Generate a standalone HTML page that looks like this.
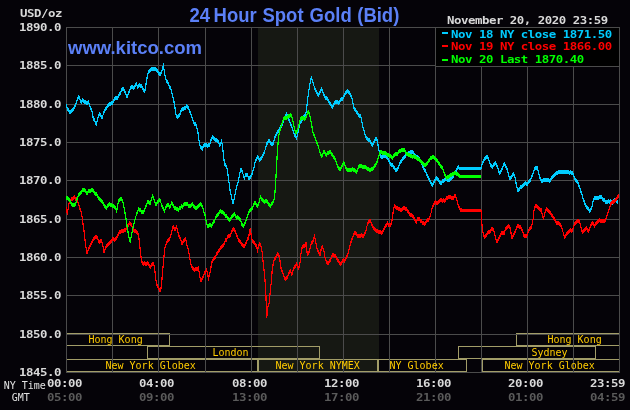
<!DOCTYPE html>
<html><head><meta charset="utf-8"><style>
html,body{margin:0;padding:0;background:#050308;}
body{width:630px;height:410px;overflow:hidden;}
svg{display:block;}
.b{font-family:"DejaVu Sans Mono","Liberation Mono",monospace;font-weight:bold;font-size:12.4px;letter-spacing:-0.466px;}
.r{font-family:"DejaVu Sans Mono","Liberation Mono",monospace;font-size:10px;}
.t{font-family:"Liberation Sans",Arial,sans-serif;font-weight:bold;font-size:18.5px;}
</style></head><body>
<svg width="630" height="410" viewBox="0 0 630 410">
<rect width="630" height="410" fill="#050308"/>
<g shape-rendering="crispEdges">
<rect x="258" y="28" width="121" height="344" fill="#161813"/>
<rect x="67" y="333" width="103" height="1" fill="#a29d68"/>
<rect x="67" y="345" width="103" height="1" fill="#a29d68"/>
<rect x="169" y="333" width="1" height="13" fill="#a29d68"/>
<rect x="516" y="333" width="103" height="1" fill="#a29d68"/>
<rect x="516" y="345" width="103" height="1" fill="#a29d68"/>
<rect x="516" y="333" width="1" height="13" fill="#a29d68"/>
<rect x="147" y="346" width="173" height="1" fill="#a29d68"/>
<rect x="147" y="358" width="173" height="1" fill="#a29d68"/>
<rect x="147" y="346" width="1" height="13" fill="#a29d68"/>
<rect x="319" y="346" width="1" height="13" fill="#a29d68"/>
<rect x="458" y="346" width="138" height="1" fill="#a29d68"/>
<rect x="458" y="358" width="138" height="1" fill="#a29d68"/>
<rect x="458" y="346" width="1" height="13" fill="#a29d68"/>
<rect x="595" y="346" width="1" height="13" fill="#a29d68"/>
<rect x="67" y="359" width="191" height="1" fill="#a29d68"/>
<rect x="67" y="371" width="191" height="1" fill="#a29d68"/>
<rect x="257" y="359" width="1" height="13" fill="#a29d68"/>
<rect x="258" y="359" width="120" height="1" fill="#a29d68"/>
<rect x="258" y="371" width="120" height="1" fill="#a29d68"/>
<rect x="258" y="359" width="1" height="13" fill="#a29d68"/>
<rect x="377" y="359" width="1" height="13" fill="#a29d68"/>
<rect x="378" y="359" width="89" height="1" fill="#a29d68"/>
<rect x="378" y="371" width="89" height="1" fill="#a29d68"/>
<rect x="378" y="359" width="1" height="13" fill="#a29d68"/>
<rect x="466" y="359" width="1" height="13" fill="#a29d68"/>
<rect x="482" y="359" width="137" height="1" fill="#a29d68"/>
<rect x="482" y="371" width="137" height="1" fill="#a29d68"/>
<rect x="482" y="359" width="1" height="13" fill="#a29d68"/>
<rect x="66" y="27" width="554" height="1" fill="#4b4b4b"/>
<rect x="66" y="65" width="554" height="1" fill="#4b4b4b"/>
<rect x="66" y="104" width="554" height="1" fill="#4b4b4b"/>
<rect x="66" y="142" width="554" height="1" fill="#4b4b4b"/>
<rect x="66" y="180" width="554" height="1" fill="#4b4b4b"/>
<rect x="66" y="219" width="554" height="1" fill="#4b4b4b"/>
<rect x="66" y="257" width="554" height="1" fill="#4b4b4b"/>
<rect x="66" y="295" width="554" height="1" fill="#4b4b4b"/>
<rect x="66" y="334" width="554" height="1" fill="#4b4b4b"/>
<rect x="66" y="372" width="554" height="1" fill="#4b4b4b"/>
<rect x="66" y="27" width="1" height="346" fill="#4b4b4b"/>
<rect x="112" y="27" width="1" height="346" fill="#4b4b4b"/>
<rect x="158" y="27" width="1" height="346" fill="#4b4b4b"/>
<rect x="205" y="27" width="1" height="346" fill="#4b4b4b"/>
<rect x="251" y="27" width="1" height="346" fill="#4b4b4b"/>
<rect x="297" y="27" width="1" height="346" fill="#4b4b4b"/>
<rect x="343" y="27" width="1" height="346" fill="#4b4b4b"/>
<rect x="389" y="27" width="1" height="346" fill="#4b4b4b"/>
<rect x="435" y="27" width="1" height="346" fill="#4b4b4b"/>
<rect x="481" y="27" width="1" height="346" fill="#4b4b4b"/>
<rect x="527" y="27" width="1" height="346" fill="#4b4b4b"/>
<rect x="573" y="27" width="1" height="346" fill="#4b4b4b"/>
<rect x="619" y="27" width="1" height="346" fill="#4b4b4b"/>
</g>
<rect x="436" y="28" width="183" height="38" fill="#000" shape-rendering="crispEdges"/>
<rect x="435" y="66" width="185" height="1" fill="#4b4b4b" shape-rendering="crispEdges"/>
<g shape-rendering="crispEdges">
<polygon points="66.7,102.4 67.0,106.0 68.3,107.9 69.1,108.6 69.9,110.7 71.3,109.5 72.2,109.1 73.1,107.3 74.0,106.3 75.0,104.2 76.2,100.6 77.0,98.0 77.7,96.3 78.6,94.8 79.9,96.9 81.0,100.6 82.0,99.0 82.9,97.5 84.1,100.0 85.3,100.2 86.6,100.6 87.5,100.6 88.4,100.0 89.6,103.6 90.5,106.0 91.4,107.3 92.7,112.1 93.3,117.0 94.2,117.4 95.1,119.5 96.3,122.5 97.5,117.0 98.5,113.6 99.4,112.1 100.6,113.4 101.5,115.0 102.4,115.2 103.6,110.9 104.5,109.0 105.5,107.3 106.7,106.0 107.9,103.6 109.1,101.7 110.3,101.8 111.2,101.4 112.2,101.3 113.3,99.5 114.4,96.9 115.5,96.0 116.6,96.2 117.3,96.3 118.1,94.7 119.5,91.8 120.6,90.6 121.7,87.8 122.6,86.7 123.5,87.4 124.6,89.6 125.3,90.5 126.1,93.3 127.3,94.7 128.3,91.8 129.4,89.0 130.5,86.0 131.2,86.1 132.0,84.5 133.4,86.7 134.2,85.4 134.9,84.5 135.7,82.4 136.4,81.5 137.5,85.2 138.4,83.9 139.3,83.0 140.7,83.7 141.4,83.9 142.2,86.0 143.1,87.2 144.0,89.6 145.1,88.1 146.3,80.1 147.3,74.2 148.4,70.6 149.4,69.0 150.3,67.6 151.4,67.4 152.5,67.3 153.6,66.6 154.7,66.9 155.6,66.7 156.6,67.6 157.4,68.5 158.3,70.6 159.1,71.4 159.8,72.3 161.2,71.3 162.4,67.6 163.4,62.5 164.2,69.1 165.3,75.0 166.4,79.4 167.8,80.8 168.6,82.5 169.3,85.0 170.6,86.6 171.8,90.1 172.7,94.2 173.5,96.9 174.9,105.4 176.1,113.1 176.9,114.1 177.8,114.8 178.9,113.8 180.0,112.3 181.2,108.0 182.1,106.9 182.9,107.1 183.8,107.2 184.6,105.4 185.5,105.9 186.3,104.1 187.2,104.6 188.1,105.5 188.9,107.1 189.8,109.7 190.6,111.4 191.4,114.0 192.3,115.7 193.2,119.6 194.0,121.7 195.1,121.9 196.1,122.5 197.4,127.6 198.3,132.8 199.4,141.5 200.3,144.3 201.2,145.8 202.2,147.8 203.3,143.7 204.4,143.5 205.4,142.7 206.4,142.8 207.4,143.7 208.4,143.4 209.5,142.7 210.3,140.9 211.1,137.5 211.8,136.6 212.6,134.4 213.6,136.0 214.7,137.5 215.7,138.2 216.7,138.5 217.8,138.6 218.8,140.6 219.8,144.7 220.7,141.1 221.5,138.5 222.3,143.7 223.4,152.0 224.4,162.3 225.2,163.4 226.1,163.4 227.1,166.5 228.5,176.8 229.3,182.9 230.2,189.3 231.1,192.7 231.9,197.5 232.9,201.7 234.3,196.5 235.4,190.9 236.4,185.1 237.4,182.4 238.5,178.9 239.5,172.7 240.2,169.9 241.0,166.5 241.8,168.3 242.6,170.6 243.4,173.4 244.2,176.5 244.9,174.6 245.7,172.7 246.4,172.8 247.2,171.7 248.0,174.3 248.8,176.8 249.7,175.6 250.5,174.8 251.9,172.7 252.9,169.0 254.0,165.4 255.1,160.4 256.1,157.2 257.5,155.1 258.6,155.9 259.6,158.5 260.8,157.1 262.0,154.9 263.1,153.6 264.3,150.3 265.5,146.4 266.6,142.1 267.8,140.2 268.9,138.7 270.0,139.7 271.2,142.1 272.4,141.6 273.5,141.0 274.7,135.2 275.9,133.9 277.0,130.6 278.1,129.4 279.3,127.1 280.5,125.4 281.6,123.6 282.8,121.4 284.0,117.8 285.1,114.4 286.3,112.0 287.1,113.2 287.9,114.3 288.9,118.1 289.8,120.1 291.0,123.2 292.1,125.9 293.2,129.3 294.4,132.9 295.5,134.1 296.7,136.3 297.9,130.6 299.0,125.4 300.2,120.1 301.4,119.3 302.5,116.7 303.6,114.5 304.8,114.3 305.6,112.0 306.4,108.5 307.8,95.8 308.6,90.6 309.4,84.2 310.4,80.4 311.3,75.0 312.1,77.8 312.9,79.6 313.9,83.7 314.8,86.5 316.0,88.9 317.1,91.2 317.9,92.5 318.7,93.5 319.6,91.1 320.6,88.9 321.4,87.3 322.2,87.5 323.3,91.6 324.4,94.3 325.5,95.5 326.6,96.5 327.7,97.5 328.8,99.8 329.9,101.5 331.0,103.1 331.9,104.2 332.7,105.3 333.5,102.8 334.3,100.9 335.4,100.0 336.5,99.8 337.6,100.4 338.7,100.9 339.8,99.5 340.9,97.6 341.9,97.3 343.0,96.5 343.8,94.8 344.6,93.2 345.5,90.6 346.3,89.9 347.4,89.4 348.5,89.9 349.6,90.9 350.7,93.2 351.6,95.6 352.5,97.6 353.4,104.2 354.2,106.6 355.1,107.5 356.2,109.7 357.3,110.8 358.2,112.5 359.1,113.0 359.9,114.2 360.6,114.1 361.4,116.9 362.1,120.7 363.0,125.2 363.9,128.4 365.0,132.5 366.1,136.0 367.2,136.3 368.3,138.2 369.1,137.8 370.0,139.3 371.1,140.5 372.2,143.7 373.0,142.6 373.8,140.4 374.9,137.7 376.0,136.0 376.8,136.9 377.5,139.3 378.7,147.6 380.1,153.5 381.2,154.5 382.3,155.0 383.4,154.3 384.5,154.2 385.6,153.7 386.7,155.0 387.8,156.1 388.9,158.6 390.0,160.9 391.1,163.0 392.2,163.1 393.3,164.5 394.3,165.5 395.2,167.9 396.2,168.9 397.3,167.0 398.4,165.2 399.5,162.3 400.6,160.1 401.7,158.2 402.8,156.4 403.9,155.1 405.0,155.7 405.8,153.6 406.5,152.0 407.6,151.5 408.7,151.3 409.8,150.3 410.9,150.6 411.9,149.4 412.8,149.8 413.8,152.0 414.9,153.9 416.0,154.2 417.1,155.0 418.2,155.7 419.3,156.6 420.4,158.6 421.5,161.4 422.6,163.7 423.7,166.5 424.8,168.1 425.9,169.7 427.0,173.3 428.1,174.5 429.2,177.7 430.3,179.1 431.4,182.0 432.8,182.8 433.9,180.7 435.0,177.7 435.9,176.3 436.8,176.2 437.8,177.7 438.7,178.4 439.8,180.2 440.9,181.3 442.2,179.7 443.3,178.8 444.4,177.8 445.5,176.7 446.6,176.7 447.7,178.4 448.8,178.2 449.9,178.0 451.0,176.7 452.1,175.6 453.2,174.5 454.3,171.8 455.4,170.2 456.4,168.3 457.3,165.8 458.3,165.0 459.7,167.0 460.7,167.0 461.7,167.0 462.7,167.0 463.8,167.0 464.8,167.0 465.8,167.0 466.8,167.0 467.8,167.0 468.8,167.0 469.8,167.0 470.9,167.0 471.9,167.0 472.9,167.0 473.9,167.0 474.9,167.0 475.9,167.0 476.9,167.0 478.0,167.0 479.0,167.0 480.0,167.0 481.0,167.0 482.4,161.4 483.5,159.0 484.6,157.0 485.7,155.7 486.8,154.1 487.9,155.9 489.0,158.5 490.1,161.7 491.2,164.3 492.6,165.0 493.4,162.7 494.1,162.1 495.0,161.0 495.8,160.7 496.8,164.2 497.7,165.8 498.8,169.5 499.9,171.6 500.6,169.8 501.4,168.7 502.3,166.9 503.2,163.6 504.3,162.1 505.1,162.8 505.8,164.3 506.6,166.6 507.3,167.2 508.7,173.1 509.4,175.4 510.2,176.7 511.0,175.4 511.9,174.5 512.6,173.0 513.4,172.4 514.1,172.9 514.9,175.3 516.3,182.5 517.5,188.0 518.4,188.4 519.2,187.2 520.5,185.0 521.7,184.7 523.0,184.1 524.2,182.2 525.0,182.3 525.8,180.5 527.0,183.8 528.3,179.7 529.5,178.6 530.8,177.2 531.6,174.4 532.5,173.0 533.4,170.8 534.2,167.2 535.0,166.9 535.8,164.7 536.6,165.9 537.5,166.3 538.7,171.3 540.0,176.3 540.9,177.8 541.7,179.3 543.0,178.4 544.2,178.0 545.5,177.5 546.7,177.7 548.0,177.9 549.2,179.3 550.0,179.0 550.8,178.0 551.7,175.5 552.7,174.5 553.7,173.8 554.8,172.4 555.8,172.2 557.0,170.6 558.3,170.5 559.5,170.4 560.8,169.7 562.0,169.4 563.3,170.0 564.5,170.2 565.8,170.5 567.0,169.8 568.3,169.7 569.5,170.6 570.8,170.0 571.6,171.4 572.5,171.3 573.4,172.4 574.2,175.5 575.0,176.6 575.8,178.8 576.9,179.3 578.0,180.5 578.9,184.0 579.7,185.5 580.5,188.6 581.3,190.5 582.1,193.1 583.0,196.3 583.9,198.5 584.8,201.8 585.8,203.8 586.8,205.1 587.8,206.8 588.8,207.2 589.6,208.7 590.4,208.5 591.5,206.5 592.8,200.4 594.2,196.4 595.2,195.8 596.2,195.8 597.2,196.6 598.2,195.8 599.2,195.5 600.2,194.4 601.0,194.7 601.9,195.1 602.8,197.4 603.6,197.8 604.6,198.3 605.6,199.8 606.6,200.5 607.6,200.2 608.6,199.2 609.6,199.8 610.6,199.4 611.6,200.4 612.6,200.6 613.6,199.1 614.6,198.2 615.6,198.4 617.0,199.1 618.3,200.4 618.3,204.4 617.0,203.1 615.6,202.4 614.6,202.2 613.6,203.1 612.6,204.6 611.6,204.4 610.6,203.4 609.6,203.8 608.6,203.2 607.6,204.2 606.6,204.5 605.6,203.8 604.6,202.3 603.6,201.8 602.8,201.4 601.9,199.1 601.0,198.7 600.2,198.4 599.2,199.5 598.2,199.8 597.2,200.6 596.2,199.8 595.2,199.8 594.2,200.4 592.8,204.4 591.5,210.5 590.4,212.5 589.6,212.7 588.8,211.2 587.8,210.8 586.8,209.1 585.8,207.8 584.8,205.8 583.9,202.5 583.0,200.3 582.1,197.1 581.3,194.5 580.5,192.6 579.7,189.5 578.9,188.0 578.0,184.5 576.9,183.3 575.8,182.8 575.0,180.6 574.2,179.5 573.4,176.4 572.5,175.3 571.6,175.4 570.8,174.0 569.5,174.6 568.3,173.7 567.0,173.8 565.8,174.5 564.5,174.2 563.3,174.0 562.0,173.4 560.8,173.7 559.5,174.4 558.3,174.5 557.0,174.6 555.8,176.2 554.8,176.4 553.7,177.8 552.7,178.5 551.7,179.5 550.8,182.0 550.0,183.0 549.2,183.3 548.0,181.9 546.7,181.7 545.5,181.5 544.2,182.0 543.0,182.4 541.7,183.3 540.9,181.8 540.0,180.3 538.7,175.3 537.5,170.3 536.6,169.9 535.8,168.7 535.0,170.9 534.2,171.2 533.4,174.8 532.5,177.0 531.6,178.4 530.8,181.2 529.5,182.6 528.3,183.7 527.0,187.8 525.8,184.5 525.0,186.3 524.2,186.2 523.0,188.1 521.7,188.7 520.5,189.0 519.2,191.2 518.4,192.4 517.5,192.0 516.3,186.5 514.9,179.3 514.1,176.9 513.4,176.4 512.6,177.0 511.9,178.5 511.0,179.4 510.2,180.7 509.4,179.4 508.7,177.1 507.3,171.2 506.6,170.6 505.8,168.3 505.1,166.8 504.3,166.1 503.2,167.6 502.3,170.9 501.4,172.7 500.6,173.8 499.9,175.6 498.8,173.5 497.7,169.8 496.8,168.2 495.8,164.7 495.0,165.0 494.1,166.1 493.4,166.7 492.6,169.0 491.2,168.3 490.1,165.7 489.0,162.5 487.9,159.9 486.8,158.1 485.7,159.7 484.6,161.0 483.5,163.0 482.4,165.4 481.0,170.0 480.0,170.0 479.0,170.0 478.0,170.0 476.9,170.0 475.9,170.0 474.9,170.0 473.9,170.0 472.9,170.0 471.9,170.0 470.9,170.0 469.8,170.0 468.8,170.0 467.8,170.0 466.8,170.0 465.8,170.0 464.8,170.0 463.8,170.0 462.7,170.0 461.7,170.0 460.7,170.0 459.7,170.0 458.3,169.0 457.3,169.8 456.4,172.3 455.4,174.2 454.3,175.8 453.2,178.5 452.1,179.6 451.0,180.7 449.9,182.0 448.8,182.2 447.7,182.4 446.6,180.7 445.5,180.7 444.4,181.8 443.3,182.8 442.2,183.7 440.9,185.3 439.8,184.2 438.7,182.4 437.8,181.7 436.8,180.2 435.9,180.3 435.0,181.7 433.9,184.7 432.8,186.8 431.4,186.0 430.3,183.1 429.2,181.7 428.1,178.5 427.0,177.3 425.9,173.7 424.8,172.1 423.7,170.5 422.6,167.7 421.5,165.4 420.4,162.6 419.3,160.6 418.2,159.7 417.1,159.0 416.0,158.2 414.9,157.9 413.8,156.0 412.8,153.8 411.9,153.4 410.9,154.6 409.8,154.3 408.7,155.3 407.6,155.5 406.5,156.0 405.8,157.6 405.0,159.7 403.9,159.1 402.8,160.4 401.7,162.2 400.6,164.1 399.5,166.3 398.4,169.2 397.3,171.0 396.2,172.9 395.2,171.9 394.3,169.5 393.3,168.5 392.2,167.1 391.1,167.0 390.0,164.9 388.9,162.6 387.8,160.1 386.7,159.0 385.6,157.7 384.5,158.2 383.4,158.3 382.3,159.0 381.2,158.5 380.1,157.5 378.7,151.6 377.5,143.3 376.8,140.9 376.0,140.0 374.9,141.7 373.8,144.4 373.0,146.6 372.2,147.7 371.1,144.5 370.0,143.3 369.1,141.8 368.3,142.2 367.2,140.3 366.1,140.0 365.0,136.5 363.9,132.4 363.0,129.2 362.1,124.7 361.4,120.9 360.6,118.1 359.9,118.2 359.1,117.0 358.2,116.5 357.3,114.8 356.2,113.7 355.1,111.5 354.2,110.6 353.4,108.2 352.5,101.6 351.6,99.6 350.7,97.2 349.6,94.9 348.5,93.9 347.4,93.4 346.3,93.9 345.5,94.6 344.6,97.2 343.8,98.8 343.0,100.5 341.9,101.3 340.9,101.6 339.8,103.5 338.7,104.9 337.6,104.4 336.5,103.8 335.4,104.0 334.3,104.9 333.5,106.8 332.7,109.3 331.9,108.2 331.0,107.1 329.9,105.5 328.8,103.8 327.7,101.5 326.6,100.5 325.5,99.5 324.4,98.3 323.3,95.6 322.2,91.5 321.4,91.3 320.6,92.9 319.6,95.1 318.7,97.5 317.9,96.5 317.1,95.2 316.0,92.9 314.8,90.5 313.9,87.7 312.9,83.6 312.1,81.8 311.3,79.0 310.4,84.4 309.4,88.2 308.6,94.6 307.8,99.8 306.4,112.5 305.6,116.0 304.8,118.3 303.6,118.5 302.5,120.7 301.4,123.3 300.2,124.1 299.0,129.4 297.9,134.6 296.7,140.3 295.5,138.1 294.4,136.9 293.2,133.3 292.1,129.9 291.0,127.2 289.8,124.1 288.9,122.1 287.9,118.3 287.1,117.2 286.3,116.0 285.1,118.4 284.0,121.8 282.8,125.4 281.6,127.6 280.5,129.4 279.3,131.1 278.1,133.4 277.0,134.6 275.9,137.9 274.7,139.2 273.5,145.0 272.4,145.6 271.2,146.1 270.0,143.7 268.9,142.7 267.8,144.2 266.6,146.1 265.5,150.4 264.3,154.3 263.1,157.6 262.0,158.9 260.8,161.1 259.6,162.5 258.6,159.9 257.5,159.1 256.1,161.2 255.1,164.4 254.0,169.4 252.9,173.0 251.9,176.7 250.5,178.8 249.7,179.6 248.8,180.8 248.0,178.3 247.2,175.7 246.4,176.8 245.7,176.7 244.9,178.6 244.2,180.5 243.4,177.4 242.6,174.6 241.8,172.3 241.0,170.5 240.2,173.9 239.5,176.7 238.5,182.9 237.4,186.4 236.4,189.1 235.4,194.9 234.3,200.5 232.9,205.7 231.9,201.5 231.1,196.7 230.2,193.3 229.3,186.9 228.5,180.8 227.1,170.5 226.1,167.4 225.2,167.4 224.4,166.3 223.4,156.0 222.3,147.7 221.5,142.5 220.7,145.1 219.8,148.7 218.8,144.6 217.8,142.6 216.7,142.5 215.7,142.2 214.7,141.5 213.6,140.0 212.6,138.4 211.8,140.6 211.1,141.5 210.3,144.9 209.5,146.7 208.4,147.4 207.4,147.7 206.4,146.8 205.4,146.7 204.4,147.5 203.3,147.7 202.2,151.8 201.2,149.8 200.3,148.3 199.4,145.5 198.3,136.8 197.4,131.6 196.1,126.5 195.1,125.9 194.0,125.7 193.2,123.6 192.3,119.7 191.4,118.0 190.6,115.4 189.8,113.7 188.9,111.1 188.1,109.5 187.2,108.6 186.3,108.1 185.5,109.9 184.6,109.4 183.8,111.2 182.9,111.1 182.1,110.9 181.2,112.0 180.0,116.3 178.9,117.8 177.8,118.8 176.9,118.1 176.1,117.1 174.9,109.4 173.5,100.9 172.7,98.2 171.8,94.1 170.6,90.6 169.3,89.0 168.6,86.5 167.8,84.8 166.4,83.4 165.3,79.0 164.2,73.1 163.4,66.5 162.4,71.6 161.2,75.3 159.8,76.3 159.1,75.4 158.3,74.6 157.4,72.5 156.6,71.6 155.6,70.7 154.7,70.9 153.6,70.6 152.5,71.3 151.4,71.4 150.3,71.6 149.4,73.0 148.4,74.6 147.3,78.2 146.3,84.1 145.1,92.1 144.0,93.6 143.1,91.2 142.2,90.0 141.4,87.9 140.7,87.7 139.3,87.0 138.4,87.9 137.5,89.2 136.4,85.5 135.7,86.4 134.9,88.5 134.2,89.4 133.4,90.7 132.0,88.5 131.2,90.1 130.5,90.0 129.4,93.0 128.3,95.8 127.3,98.7 126.1,97.3 125.3,94.5 124.6,93.6 123.5,91.4 122.6,90.7 121.7,91.8 120.6,94.6 119.5,95.8 118.1,98.7 117.3,100.3 116.6,100.2 115.5,100.0 114.4,100.9 113.3,103.5 112.2,105.3 111.2,105.4 110.3,105.8 109.1,105.7 107.9,107.6 106.7,110.0 105.5,111.3 104.5,113.0 103.6,114.9 102.4,119.2 101.5,119.0 100.6,117.4 99.4,116.1 98.5,117.6 97.5,121.0 96.3,126.5 95.1,123.5 94.2,121.4 93.3,121.0 92.7,116.1 91.4,111.3 90.5,110.0 89.6,107.6 88.4,104.0 87.5,104.6 86.6,104.6 85.3,104.2 84.1,104.0 82.9,101.5 82.0,103.0 81.0,104.6 79.9,100.9 78.6,98.8 77.7,100.3 77.0,102.0 76.2,104.6 75.0,108.2 74.0,110.3 73.1,111.3 72.2,113.1 71.3,113.5 69.9,114.7 69.1,112.6 68.3,111.9 67.0,110.0 66.7,106.4" fill="#00ccff"/>
<polyline points="66.7,104.4 67.0,108.0 68.3,109.9 69.1,110.6 69.9,112.7 71.3,111.5 72.2,111.1 73.1,109.3 74.0,108.3 75.0,106.2 76.2,102.6 77.0,100.0 77.7,98.3 78.6,96.8 79.9,98.9 81.0,102.6 82.0,101.0 82.9,99.5 84.1,102.0 85.3,102.2 86.6,102.6 87.5,102.6 88.4,102.0 89.6,105.6 90.5,108.0 91.4,109.3 92.7,114.1 93.3,119.0 94.2,119.4 95.1,121.5 96.3,124.5 97.5,119.0 98.5,115.6 99.4,114.1 100.6,115.4 101.5,117.0 102.4,117.2 103.6,112.9 104.5,111.0 105.5,109.3 106.7,108.0 107.9,105.6 109.1,103.7 110.3,103.8 111.2,103.4 112.2,103.3 113.3,101.5 114.4,98.9 115.5,98.0 116.6,98.2 117.3,98.3 118.1,96.7 119.5,93.8 120.6,92.6 121.7,89.8 122.6,88.7 123.5,89.4 124.6,91.6 125.3,92.5 126.1,95.3 127.3,96.7 128.3,93.8 129.4,91.0 130.5,88.0 131.2,88.1 132.0,86.5 133.4,88.7 134.2,87.4 134.9,86.5 135.7,84.4 136.4,83.5 137.5,87.2 138.4,85.9 139.3,85.0 140.7,85.7 141.4,85.9 142.2,88.0 143.1,89.2 144.0,91.6 145.1,90.1 146.3,82.1 147.3,76.2 148.4,72.6 149.4,71.0 150.3,69.6 151.4,69.4 152.5,69.3 153.6,68.6 154.7,68.9 155.6,68.7 156.6,69.6 157.4,70.5 158.3,72.6 159.1,73.4 159.8,74.3 161.2,73.3 162.4,69.6 163.4,64.5 164.2,71.1 165.3,77.0 166.4,81.4 167.8,82.8 168.6,84.5 169.3,87.0 170.6,88.6 171.8,92.1 172.7,96.2 173.5,98.9 174.9,107.4 176.1,115.1 176.9,116.1 177.8,116.8 178.9,115.8 180.0,114.3 181.2,110.0 182.1,108.9 182.9,109.1 183.8,109.2 184.6,107.4 185.5,107.9 186.3,106.1 187.2,106.6 188.1,107.5 188.9,109.1 189.8,111.7 190.6,113.4 191.4,116.0 192.3,117.7 193.2,121.6 194.0,123.7 195.1,123.9 196.1,124.5 197.4,129.6 198.3,134.8 199.4,143.5 200.3,146.3 201.2,147.8 202.2,149.8 203.3,145.7 204.4,145.5 205.4,144.7 206.4,144.8 207.4,145.7 208.4,145.4 209.5,144.7 210.3,142.9 211.1,139.5 211.8,138.6 212.6,136.4 213.6,138.0 214.7,139.5 215.7,140.2 216.7,140.5 217.8,140.6 218.8,142.6 219.8,146.7 220.7,143.1 221.5,140.5 222.3,145.7 223.4,154.0 224.4,164.3 225.2,165.4 226.1,165.4 227.1,168.5 228.5,178.8 229.3,184.9 230.2,191.3 231.1,194.7 231.9,199.5 232.9,203.7 234.3,198.5 235.4,192.9 236.4,187.1 237.4,184.4 238.5,180.9 239.5,174.7 240.2,171.9 241.0,168.5 241.8,170.3 242.6,172.6 243.4,175.4 244.2,178.5 244.9,176.6 245.7,174.7 246.4,174.8 247.2,173.7 248.0,176.3 248.8,178.8 249.7,177.6 250.5,176.8 251.9,174.7 252.9,171.0 254.0,167.4 255.1,162.4 256.1,159.2 257.5,157.1 258.6,157.9 259.6,160.5 260.8,159.1 262.0,156.9 263.1,155.6 264.3,152.3 265.5,148.4 266.6,144.1 267.8,142.2 268.9,140.7 270.0,141.7 271.2,144.1 272.4,143.6 273.5,143.0 274.7,137.2 275.9,135.9 277.0,132.6 278.1,131.4 279.3,129.1 280.5,127.4 281.6,125.6 282.8,123.4 284.0,119.8 285.1,116.4 286.3,114.0 287.1,115.2 287.9,116.3 288.9,120.1 289.8,122.1 291.0,125.2 292.1,127.9 293.2,131.3 294.4,134.9 295.5,136.1 296.7,138.3 297.9,132.6 299.0,127.4 300.2,122.1 301.4,121.3 302.5,118.7 303.6,116.5 304.8,116.3 305.6,114.0 306.4,110.5 307.8,97.8 308.6,92.6 309.4,86.2 310.4,82.4 311.3,77.0 312.1,79.8 312.9,81.6 313.9,85.7 314.8,88.5 316.0,90.9 317.1,93.2 317.9,94.5 318.7,95.5 319.6,93.1 320.6,90.9 321.4,89.3 322.2,89.5 323.3,93.6 324.4,96.3 325.5,97.5 326.6,98.5 327.7,99.5 328.8,101.8 329.9,103.5 331.0,105.1 331.9,106.2 332.7,107.3 333.5,104.8 334.3,102.9 335.4,102.0 336.5,101.8 337.6,102.4 338.7,102.9 339.8,101.5 340.9,99.6 341.9,99.3 343.0,98.5 343.8,96.8 344.6,95.2 345.5,92.6 346.3,91.9 347.4,91.4 348.5,91.9 349.6,92.9 350.7,95.2 351.6,97.6 352.5,99.6 353.4,106.2 354.2,108.6 355.1,109.5 356.2,111.7 357.3,112.8 358.2,114.5 359.1,115.0 359.9,116.2 360.6,116.1 361.4,118.9 362.1,122.7 363.0,127.2 363.9,130.4 365.0,134.5 366.1,138.0 367.2,138.3 368.3,140.2 369.1,139.8 370.0,141.3 371.1,142.5 372.2,145.7 373.0,144.6 373.8,142.4 374.9,139.7 376.0,138.0 376.8,138.9 377.5,141.3 378.7,149.6 380.1,155.5 381.2,156.5 382.3,157.0 383.4,156.3 384.5,156.2 385.6,155.7 386.7,157.0 387.8,158.1 388.9,160.6 390.0,162.9 391.1,165.0 392.2,165.1 393.3,166.5 394.3,167.5 395.2,169.9 396.2,170.9 397.3,169.0 398.4,167.2 399.5,164.3 400.6,162.1 401.7,160.2 402.8,158.4 403.9,157.1 405.0,157.7 405.8,155.6 406.5,154.0 407.6,153.5 408.7,153.3 409.8,152.3 410.9,152.6 411.9,151.4 412.8,151.8 413.8,154.0 414.9,155.9 416.0,156.2 417.1,157.0 418.2,157.7 419.3,158.6 420.4,160.6 421.5,163.4 422.6,165.7 423.7,168.5 424.8,170.1 425.9,171.7 427.0,175.3 428.1,176.5 429.2,179.7 430.3,181.1 431.4,184.0 432.8,184.8 433.9,182.7 435.0,179.7 435.9,178.3 436.8,178.2 437.8,179.7 438.7,180.4 439.8,182.2 440.9,183.3 442.2,181.7 443.3,180.8 444.4,179.8 445.5,178.7 446.6,178.7 447.7,180.4 448.8,180.2 449.9,180.0 451.0,178.7 452.1,177.6 453.2,176.5 454.3,173.8 455.4,172.2 456.4,170.3 457.3,167.8 458.3,167.0 459.7,168.5 460.7,168.5 461.7,168.5 462.7,168.5 463.8,168.5 464.8,168.5 465.8,168.5 466.8,168.5 467.8,168.5 468.8,168.5 469.8,168.5 470.9,168.5 471.9,168.5 472.9,168.5 473.9,168.5 474.9,168.5 475.9,168.5 476.9,168.5 478.0,168.5 479.0,168.5 480.0,168.5 481.0,168.5 482.4,163.4 483.5,161.0 484.6,159.0 485.7,157.7 486.8,156.1 487.9,157.9 489.0,160.5 490.1,163.7 491.2,166.3 492.6,167.0 493.4,164.7 494.1,164.1 495.0,163.0 495.8,162.7 496.8,166.2 497.7,167.8 498.8,171.5 499.9,173.6 500.6,171.8 501.4,170.7 502.3,168.9 503.2,165.6 504.3,164.1 505.1,164.8 505.8,166.3 506.6,168.6 507.3,169.2 508.7,175.1 509.4,177.4 510.2,178.7 511.0,177.4 511.9,176.5 512.6,175.0 513.4,174.4 514.1,174.9 514.9,177.3 516.3,184.5 517.5,190.0 518.4,190.4 519.2,189.2 520.5,187.0 521.7,186.7 523.0,186.1 524.2,184.2 525.0,184.3 525.8,182.5 527.0,185.8 528.3,181.7 529.5,180.6 530.8,179.2 531.6,176.4 532.5,175.0 533.4,172.8 534.2,169.2 535.0,168.9 535.8,166.7 536.6,167.9 537.5,168.3 538.7,173.3 540.0,178.3 540.9,179.8 541.7,181.3 543.0,180.4 544.2,180.0 545.5,179.5 546.7,179.7 548.0,179.9 549.2,181.3 550.0,181.0 550.8,180.0 551.7,177.5 552.7,176.5 553.7,175.8 554.8,174.4 555.8,174.2 557.0,172.6 558.3,172.5 559.5,172.4 560.8,171.7 562.0,171.4 563.3,172.0 564.5,172.2 565.8,172.5 567.0,171.8 568.3,171.7 569.5,172.6 570.8,172.0 571.6,173.4 572.5,173.3 573.4,174.4 574.2,177.5 575.0,178.6 575.8,180.8 576.9,181.3 578.0,182.5 578.9,186.0 579.7,187.5 580.5,190.6 581.3,192.5 582.1,195.1 583.0,198.3 583.9,200.5 584.8,203.8 585.8,205.8 586.8,207.1 587.8,208.8 588.8,209.2 589.6,210.7 590.4,210.5 591.5,208.5 592.8,202.4 594.2,198.4 595.2,197.8 596.2,197.8 597.2,198.6 598.2,197.8 599.2,197.5 600.2,196.4 601.0,196.7 601.9,197.1 602.8,199.4 603.6,199.8 604.6,200.3 605.6,201.8 606.6,202.5 607.6,202.2 608.6,201.2 609.6,201.8 610.6,201.4 611.6,202.4 612.6,202.6 613.6,201.1 614.6,200.2 615.6,200.4 617.0,201.1 618.3,202.4" fill="none" stroke="#00ccff" stroke-width="1.2" stroke-linejoin="round"/>
<polygon points="66.3,205.3 67.3,212.1 68.3,205.3 69.5,199.5 70.5,198.9 71.4,196.5 72.4,196.9 73.4,195.6 74.3,195.2 75.3,196.5 76.3,196.7 77.3,198.5 78.6,202.4 79.6,206.0 80.6,208.2 82.0,214.1 83.1,222.9 84.5,232.6 85.5,242.4 86.4,248.2 87.0,252.1 88.4,247.3 89.3,245.8 90.3,243.4 91.3,241.8 92.3,239.5 93.2,237.6 94.2,236.5 95.2,235.8 96.2,234.6 97.6,236.5 98.3,238.7 99.1,240.4 100.1,239.6 101.1,238.5 102.0,240.7 103.0,244.3 104.0,250.2 105.4,246.3 106.2,244.7 106.9,243.4 107.9,242.2 108.9,241.4 109.8,240.9 110.8,239.5 111.8,239.0 112.8,236.5 113.8,237.9 114.7,237.5 115.7,236.6 116.7,235.6 117.7,233.5 118.6,231.7 119.6,230.2 120.6,229.7 121.5,228.6 122.5,229.4 123.9,229.1 124.9,227.5 125.9,227.8 126.8,225.8 127.8,223.9 128.8,222.0 129.8,220.9 130.6,221.7 131.3,222.9 132.7,226.8 133.6,228.5 134.6,228.7 135.6,229.3 136.6,229.7 137.6,231.2 138.5,232.5 139.5,240.9 140.3,248.8 141.1,256.0 141.9,260.7 142.7,260.6 143.5,261.5 144.3,260.7 145.1,261.8 145.8,261.7 146.6,262.3 147.4,261.2 148.2,261.5 149.0,263.1 149.8,264.7 150.6,264.9 151.4,263.1 152.2,262.5 153.0,261.2 154.1,263.9 155.0,269.5 155.8,277.4 156.6,282.1 157.7,284.5 158.8,286.9 160.1,289.3 160.9,286.9 161.7,280.5 162.5,271.0 163.3,261.5 164.1,253.6 164.9,246.3 166.1,241.7 167.1,239.5 168.0,238.5 168.9,238.2 169.8,236.3 170.8,233.6 171.7,229.7 173.1,223.9 173.8,225.8 174.6,226.8 175.6,226.6 176.6,224.8 177.6,229.2 178.5,232.6 179.5,235.1 180.5,236.5 181.2,239.2 182.0,242.4 183.4,238.5 184.4,238.5 185.4,236.5 186.3,240.1 187.1,243.8 187.8,245.7 188.6,249.0 189.4,253.6 190.2,258.9 191.0,263.1 191.8,265.1 192.6,266.3 193.4,267.0 194.2,267.9 195.0,267.2 195.8,266.3 196.6,266.7 197.4,267.1 198.5,266.3 199.7,274.1 200.8,279.2 201.8,278.1 202.8,275.3 203.9,272.8 204.9,270.2 205.8,269.6 206.7,267.6 207.6,271.8 208.5,276.6 209.2,274.2 210.0,270.2 210.9,265.8 211.8,259.9 212.7,258.6 213.5,257.5 214.4,256.1 215.7,254.4 216.9,251.0 217.8,250.6 218.6,249.2 219.5,248.4 220.4,246.5 221.2,245.4 222.1,244.5 223.3,243.0 224.6,240.7 225.5,238.3 226.3,238.1 227.2,235.6 228.4,234.5 229.7,234.3 230.6,233.2 231.5,230.4 232.3,228.1 233.1,226.6 234.0,228.2 234.9,227.9 235.8,230.9 236.7,233.0 237.7,235.6 238.7,238.1 239.8,239.4 240.8,240.7 241.7,242.3 242.6,243.3 243.5,244.1 244.4,244.5 245.4,242.2 246.4,240.7 247.4,237.6 248.5,235.6 249.4,231.1 250.3,226.6 251.2,233.2 252.1,238.1 253.1,239.6 254.1,240.7 255.5,242.5 256.7,244.4 257.5,248.6 258.7,243.4 259.4,242.0 260.2,242.3 261.2,244.4 262.3,251.7 263.3,262.0 264.3,270.3 265.4,282.8 266.0,295.2 266.4,307.7 266.8,315.0 267.9,304.6 269.1,301.5 269.9,293.2 271.2,280.7 272.0,270.3 273.3,261.0 274.7,256.9 275.5,255.9 276.4,253.7 277.8,251.7 278.6,253.7 279.5,254.8 280.3,262.0 281.1,266.5 282.0,269.3 283.0,271.3 284.0,274.5 284.9,276.5 285.7,277.6 286.4,275.7 287.2,275.5 288.6,271.4 289.5,270.2 290.3,268.3 291.1,270.4 291.9,273.5 292.6,269.8 293.4,267.2 294.8,264.1 295.6,263.8 296.5,262.0 297.9,265.2 299.0,266.2 300.0,260.9 300.9,252.4 302.0,245.6 302.9,244.0 303.8,243.9 305.1,244.7 306.0,240.4 306.8,249.0 307.7,253.2 308.9,250.7 310.2,245.6 311.6,240.4 312.5,239.6 313.3,238.7 314.5,233.6 315.7,239.6 317.1,247.3 318.0,249.7 318.8,250.7 320.1,253.2 321.3,246.4 322.5,244.7 323.9,249.0 325.3,256.7 326.5,260.1 327.4,260.4 328.2,261.8 329.0,259.5 329.9,258.4 330.8,257.5 331.6,255.0 332.5,253.5 333.3,252.4 334.1,253.7 335.0,254.1 335.9,254.5 336.7,256.7 337.5,257.7 338.4,259.2 339.2,260.2 340.1,262.6 341.0,262.1 341.8,260.9 342.6,258.8 343.5,258.4 344.4,258.9 345.2,257.5 346.1,254.9 347.0,254.1 347.9,252.0 348.7,248.9 349.5,245.0 350.4,243.0 351.2,239.1 352.1,236.2 353.0,234.7 353.8,231.9 354.6,230.8 355.5,231.0 356.4,231.7 357.2,233.6 358.0,234.4 358.9,234.5 359.8,234.3 360.6,234.5 361.5,233.1 362.3,233.6 363.1,234.2 364.0,232.8 364.9,230.8 365.7,230.2 366.4,225.9 367.2,223.4 367.9,221.2 368.7,219.7 370.1,218.3 370.9,220.3 371.6,221.9 372.4,223.9 373.1,224.9 374.5,227.0 375.2,227.0 376.0,228.5 377.4,229.2 378.1,229.6 378.9,230.7 379.6,229.4 380.4,230.0 381.8,230.7 382.6,229.5 383.3,228.5 384.1,227.6 384.8,225.6 386.2,222.7 386.9,222.4 387.7,221.2 388.4,223.1 389.2,223.4 390.6,222.7 391.6,221.2 392.5,214.6 393.6,207.3 394.3,204.4 395.7,205.1 396.4,206.0 397.2,205.8 397.9,206.9 398.7,206.6 400.1,207.3 400.9,208.1 401.6,208.0 402.8,206.6 404.2,205.8 405.1,206.5 406.0,207.3 406.8,207.5 407.5,208.7 408.9,210.9 409.6,212.3 410.4,213.1 411.1,213.1 411.9,213.9 413.3,215.3 414.1,215.6 414.8,217.5 416.2,220.5 416.9,218.5 417.7,216.8 418.4,217.5 419.2,216.8 420.6,219.0 421.4,219.0 422.1,220.5 422.9,221.0 423.6,221.2 424.7,222.7 425.8,220.5 427.2,218.3 427.9,217.7 428.7,217.5 430.1,214.3 431.4,209.6 432.6,204.5 433.5,202.8 434.3,201.0 435.1,199.9 436.0,200.2 436.9,201.5 437.7,201.0 438.5,199.7 439.4,199.3 440.2,198.7 441.1,197.6 442.0,198.3 442.8,199.3 443.6,197.9 444.5,198.5 445.4,197.8 446.2,196.8 447.0,195.6 447.9,195.9 448.8,194.6 449.6,195.1 450.5,194.6 451.3,195.9 452.1,195.7 453.0,196.8 454.1,194.4 455.3,193.7 456.5,196.8 457.7,201.9 459.0,205.3 459.9,206.9 460.7,207.9 461.5,208.2 462.4,208.9 463.4,208.9 464.4,208.9 465.4,208.9 466.4,208.9 467.3,208.9 468.3,208.9 469.3,208.9 470.3,208.9 471.3,208.9 472.3,208.9 473.3,208.9 474.3,208.9 475.3,208.9 476.3,208.9 477.2,208.9 478.2,208.9 479.2,208.9 480.2,208.9 481.2,208.9 481.6,217.3 482.1,224.1 482.9,230.1 484.3,235.2 485.5,234.3 486.4,233.6 487.2,230.9 488.0,230.9 488.9,229.2 489.8,230.2 490.6,229.2 491.5,227.4 492.3,226.7 493.5,227.5 494.9,232.6 496.1,238.0 497.0,240.7 498.0,237.3 499.0,236.0 500.1,233.3 501.4,231.3 502.8,230.6 504.1,231.9 505.5,227.2 506.8,225.2 508.2,223.9 509.5,224.5 510.4,226.6 511.1,231.9 511.8,236.0 513.1,233.3 514.5,231.3 515.8,227.9 517.1,224.5 518.1,223.2 519.4,224.5 520.3,225.1 521.2,225.9 522.5,228.6 523.5,232.6 524.8,234.3 526.1,234.3 527.5,231.9 528.8,228.6 530.2,225.9 531.5,225.2 532.3,221.2 533.3,215.8 533.9,209.1 535.0,204.4 535.9,203.1 537.3,204.4 538.6,205.8 540.0,207.8 541.3,207.1 542.2,212.5 543.3,216.5 544.4,213.1 545.3,209.1 546.3,206.4 547.6,207.8 549.0,209.1 550.3,211.1 551.4,213.1 552.7,214.5 554.1,216.5 555.4,219.2 556.5,221.2 557.8,220.5 559.2,221.2 560.5,223.2 561.8,225.9 562.8,229.2 563.7,232.6 564.5,235.3 565.9,233.3 566.7,231.8 567.5,231.3 568.3,230.4 569.1,229.2 570.0,228.8 570.8,227.9 571.5,228.6 572.3,228.0 573.1,226.1 574.0,223.3 575.0,221.5 576.0,220.6 577.0,219.4 578.1,218.6 579.4,219.2 580.7,224.6 582.1,230.0 583.4,229.3 584.8,227.3 585.6,226.7 586.4,226.0 587.7,228.0 588.8,229.3 590.1,225.3 591.1,222.3 592.1,221.3 593.5,221.9 594.6,224.6 595.4,222.3 596.2,221.9 597.2,220.4 598.2,219.2 599.2,218.1 600.2,218.6 601.2,219.0 602.2,218.6 603.2,218.3 604.2,219.0 605.6,217.9 606.9,213.9 608.3,209.8 609.6,205.8 610.9,201.1 612.3,199.8 613.6,200.4 615.0,198.4 616.3,197.1 617.7,195.1 618.6,193.7 618.6,197.7 617.7,199.1 616.3,201.1 615.0,202.4 613.6,204.4 612.3,203.8 610.9,205.1 609.6,209.8 608.3,213.8 606.9,217.9 605.6,221.9 604.2,223.0 603.2,222.3 602.2,222.6 601.2,223.0 600.2,222.6 599.2,222.1 598.2,223.2 597.2,224.4 596.2,225.9 595.4,226.3 594.6,228.6 593.5,225.9 592.1,225.3 591.1,226.3 590.1,229.3 588.8,233.3 587.7,232.0 586.4,230.0 585.6,230.7 584.8,231.3 583.4,233.3 582.1,234.0 580.7,228.6 579.4,223.2 578.1,222.6 577.0,223.4 576.0,224.6 575.0,225.5 574.0,227.3 573.1,230.1 572.3,232.0 571.5,232.6 570.8,231.9 570.0,232.8 569.1,233.2 568.3,234.4 567.5,235.3 566.7,235.8 565.9,237.3 564.5,239.3 563.7,236.6 562.8,233.2 561.8,229.9 560.5,227.2 559.2,225.2 557.8,224.5 556.5,225.2 555.4,223.2 554.1,220.5 552.7,218.5 551.4,217.1 550.3,215.1 549.0,213.1 547.6,211.8 546.3,210.4 545.3,213.1 544.4,217.1 543.3,220.5 542.2,216.5 541.3,211.1 540.0,211.8 538.6,209.8 537.3,208.4 535.9,207.1 535.0,208.4 533.9,213.1 533.3,219.8 532.3,225.2 531.5,229.2 530.2,229.9 528.8,232.6 527.5,235.9 526.1,238.3 524.8,238.3 523.5,236.6 522.5,232.6 521.2,229.9 520.3,229.1 519.4,228.5 518.1,227.2 517.1,228.5 515.8,231.9 514.5,235.3 513.1,237.3 511.8,240.0 511.1,235.9 510.4,230.6 509.5,228.5 508.2,227.9 506.8,229.2 505.5,231.2 504.1,235.9 502.8,234.6 501.4,235.3 500.1,237.3 499.0,240.0 498.0,241.3 497.0,244.7 496.1,242.0 494.9,236.6 493.5,231.5 492.3,230.7 491.5,231.4 490.6,233.2 489.8,234.2 488.9,233.2 488.0,234.9 487.2,234.9 486.4,237.6 485.5,238.3 484.3,239.2 482.9,234.1 482.1,228.1 481.6,221.3 481.2,211.9 480.2,211.9 479.2,211.9 478.2,211.9 477.2,211.9 476.3,211.9 475.3,211.9 474.3,211.9 473.3,211.9 472.3,211.9 471.3,211.9 470.3,211.9 469.3,211.9 468.3,211.9 467.3,211.9 466.4,211.9 465.4,211.9 464.4,211.9 463.4,211.9 462.4,211.9 461.5,212.2 460.7,211.9 459.9,210.9 459.0,209.3 457.7,205.9 456.5,200.8 455.3,197.7 454.1,198.4 453.0,200.8 452.1,199.7 451.3,199.9 450.5,198.6 449.6,199.1 448.8,198.6 447.9,199.9 447.0,199.6 446.2,200.8 445.4,201.8 444.5,202.5 443.6,201.9 442.8,203.3 442.0,202.3 441.1,201.6 440.2,202.7 439.4,203.3 438.5,203.7 437.7,205.0 436.9,205.5 436.0,204.2 435.1,203.9 434.3,205.0 433.5,206.8 432.6,208.5 431.4,213.6 430.1,218.3 428.7,221.5 427.9,221.7 427.2,222.3 425.8,224.5 424.7,226.7 423.6,225.2 422.9,225.0 422.1,224.5 421.4,223.0 420.6,223.0 419.2,220.8 418.4,221.5 417.7,220.8 416.9,222.5 416.2,224.5 414.8,221.5 414.1,219.6 413.3,219.3 411.9,217.9 411.1,217.1 410.4,217.1 409.6,216.3 408.9,214.9 407.5,212.7 406.8,211.5 406.0,211.3 405.1,210.5 404.2,209.8 402.8,210.6 401.6,212.0 400.9,212.1 400.1,211.3 398.7,210.6 397.9,210.9 397.2,209.8 396.4,210.0 395.7,209.1 394.3,208.4 393.6,211.3 392.5,218.6 391.6,225.2 390.6,226.7 389.2,227.4 388.4,227.1 387.7,225.2 386.9,226.4 386.2,226.7 384.8,229.6 384.1,231.6 383.3,232.5 382.6,233.5 381.8,234.7 380.4,234.0 379.6,233.4 378.9,234.7 378.1,233.6 377.4,233.2 376.0,232.5 375.2,231.0 374.5,231.0 373.1,228.9 372.4,227.9 371.6,225.9 370.9,224.3 370.1,222.3 368.7,223.7 367.9,225.2 367.2,227.4 366.4,229.9 365.7,234.2 364.9,234.8 364.0,236.8 363.1,238.2 362.3,237.6 361.5,237.1 360.6,238.5 359.8,238.3 358.9,238.5 358.0,238.4 357.2,237.6 356.4,235.7 355.5,235.0 354.6,234.8 353.8,235.9 353.0,238.7 352.1,240.2 351.2,243.1 350.4,247.0 349.5,249.0 348.7,252.9 347.9,256.0 347.0,258.1 346.1,258.9 345.2,261.5 344.4,262.9 343.5,262.4 342.6,262.8 341.8,264.9 341.0,266.1 340.1,266.6 339.2,264.2 338.4,263.2 337.5,261.7 336.7,260.7 335.9,258.5 335.0,258.1 334.1,257.7 333.3,256.4 332.5,257.5 331.6,259.0 330.8,261.5 329.9,262.4 329.0,263.5 328.2,265.8 327.4,264.4 326.5,264.1 325.3,260.7 323.9,253.0 322.5,248.7 321.3,250.4 320.1,257.2 318.8,254.7 318.0,253.7 317.1,251.3 315.7,243.6 314.5,237.6 313.3,242.7 312.5,243.6 311.6,244.4 310.2,249.6 308.9,254.7 307.7,257.2 306.8,253.0 306.0,244.4 305.1,248.7 303.8,247.9 302.9,248.0 302.0,249.6 300.9,256.4 300.0,264.9 299.0,270.2 297.9,269.2 296.5,266.0 295.6,267.8 294.8,268.1 293.4,271.2 292.6,273.8 291.9,277.5 291.1,274.4 290.3,272.3 289.5,274.2 288.6,275.4 287.2,279.5 286.4,279.7 285.7,281.6 284.9,280.5 284.0,278.5 283.0,275.3 282.0,273.3 281.1,270.5 280.3,266.0 279.5,258.8 278.6,257.7 277.8,255.7 276.4,257.7 275.5,259.9 274.7,260.9 273.3,265.0 272.0,274.3 271.2,284.7 269.9,297.2 269.1,305.5 267.9,308.6 266.8,319.0 266.4,311.7 266.0,299.2 265.4,286.8 264.3,274.3 263.3,266.0 262.3,255.7 261.2,248.4 260.2,246.3 259.4,246.0 258.7,247.4 257.5,252.6 256.7,248.4 255.5,246.5 254.1,244.7 253.1,243.6 252.1,242.1 251.2,237.2 250.3,230.6 249.4,235.1 248.5,239.6 247.4,241.6 246.4,244.7 245.4,246.2 244.4,248.5 243.5,248.1 242.6,247.3 241.7,246.3 240.8,244.7 239.8,243.4 238.7,242.1 237.7,239.6 236.7,237.0 235.8,234.9 234.9,231.9 234.0,232.2 233.1,230.6 232.3,232.1 231.5,234.4 230.6,237.2 229.7,238.3 228.4,238.5 227.2,239.6 226.3,242.1 225.5,242.3 224.6,244.7 223.3,247.0 222.1,248.5 221.2,249.4 220.4,250.5 219.5,252.4 218.6,253.2 217.8,254.6 216.9,255.0 215.7,258.4 214.4,260.1 213.5,261.5 212.7,262.6 211.8,263.9 210.9,269.8 210.0,274.2 209.2,278.2 208.5,280.6 207.6,275.8 206.7,271.6 205.8,273.6 204.9,274.2 203.9,276.8 202.8,279.3 201.8,282.1 200.8,283.2 199.7,278.1 198.5,270.3 197.4,271.1 196.6,270.7 195.8,270.3 195.0,271.2 194.2,271.9 193.4,271.0 192.6,270.3 191.8,269.1 191.0,267.1 190.2,262.9 189.4,257.6 188.6,253.0 187.8,249.7 187.1,247.8 186.3,244.1 185.4,240.5 184.4,242.5 183.4,242.5 182.0,246.4 181.2,243.2 180.5,240.5 179.5,239.1 178.5,236.6 177.6,233.2 176.6,228.8 175.6,230.6 174.6,230.8 173.8,229.8 173.1,227.9 171.7,233.7 170.8,237.6 169.8,240.3 168.9,242.2 168.0,242.5 167.1,243.5 166.1,245.7 164.9,250.3 164.1,257.6 163.3,265.5 162.5,275.0 161.7,284.5 160.9,290.9 160.1,293.3 158.8,290.9 157.7,288.5 156.6,286.1 155.8,281.4 155.0,273.5 154.1,267.9 153.0,265.2 152.2,266.5 151.4,267.1 150.6,268.9 149.8,268.7 149.0,267.1 148.2,265.5 147.4,265.2 146.6,266.3 145.8,265.7 145.1,265.8 144.3,264.7 143.5,265.5 142.7,264.6 141.9,264.7 141.1,260.0 140.3,252.8 139.5,244.9 138.5,236.5 137.6,235.2 136.6,233.7 135.6,233.3 134.6,232.7 133.6,232.5 132.7,230.8 131.3,226.9 130.6,225.7 129.8,224.9 128.8,226.0 127.8,227.9 126.8,229.8 125.9,231.8 124.9,231.5 123.9,233.1 122.5,233.4 121.5,232.6 120.6,233.7 119.6,234.2 118.6,235.7 117.7,237.5 116.7,239.6 115.7,240.6 114.7,241.5 113.8,241.9 112.8,240.5 111.8,243.0 110.8,243.5 109.8,244.9 108.9,245.4 107.9,246.2 106.9,247.4 106.2,248.7 105.4,250.3 104.0,254.2 103.0,248.3 102.0,244.7 101.1,242.5 100.1,243.6 99.1,244.4 98.3,242.7 97.6,240.5 96.2,238.6 95.2,239.8 94.2,240.5 93.2,241.6 92.3,243.5 91.3,245.8 90.3,247.4 89.3,249.8 88.4,251.3 87.0,256.1 86.4,252.2 85.5,246.4 84.5,236.6 83.1,226.9 82.0,218.1 80.6,212.2 79.6,210.0 78.6,206.4 77.3,202.5 76.3,200.7 75.3,200.5 74.3,199.2 73.4,199.6 72.4,200.9 71.4,200.5 70.5,202.9 69.5,203.5 68.3,209.3 67.3,216.1 66.3,209.3" fill="#ff0000"/>
<polyline points="66.3,207.3 67.3,214.1 68.3,207.3 69.5,201.5 70.5,200.9 71.4,198.5 72.4,198.9 73.4,197.6 74.3,197.2 75.3,198.5 76.3,198.7 77.3,200.5 78.6,204.4 79.6,208.0 80.6,210.2 82.0,216.1 83.1,224.9 84.5,234.6 85.5,244.4 86.4,250.2 87.0,254.1 88.4,249.3 89.3,247.8 90.3,245.4 91.3,243.8 92.3,241.5 93.2,239.6 94.2,238.5 95.2,237.8 96.2,236.6 97.6,238.5 98.3,240.7 99.1,242.4 100.1,241.6 101.1,240.5 102.0,242.7 103.0,246.3 104.0,252.2 105.4,248.3 106.2,246.7 106.9,245.4 107.9,244.2 108.9,243.4 109.8,242.9 110.8,241.5 111.8,241.0 112.8,238.5 113.8,239.9 114.7,239.5 115.7,238.6 116.7,237.6 117.7,235.5 118.6,233.7 119.6,232.2 120.6,231.7 121.5,230.6 122.5,231.4 123.9,231.1 124.9,229.5 125.9,229.8 126.8,227.8 127.8,225.9 128.8,224.0 129.8,222.9 130.6,223.7 131.3,224.9 132.7,228.8 133.6,230.5 134.6,230.7 135.6,231.3 136.6,231.7 137.6,233.2 138.5,234.5 139.5,242.9 140.3,250.8 141.1,258.0 141.9,262.7 142.7,262.6 143.5,263.5 144.3,262.7 145.1,263.8 145.8,263.7 146.6,264.3 147.4,263.2 148.2,263.5 149.0,265.1 149.8,266.7 150.6,266.9 151.4,265.1 152.2,264.5 153.0,263.2 154.1,265.9 155.0,271.5 155.8,279.4 156.6,284.1 157.7,286.5 158.8,288.9 160.1,291.3 160.9,288.9 161.7,282.5 162.5,273.0 163.3,263.5 164.1,255.6 164.9,248.3 166.1,243.7 167.1,241.5 168.0,240.5 168.9,240.2 169.8,238.3 170.8,235.6 171.7,231.7 173.1,225.9 173.8,227.8 174.6,228.8 175.6,228.6 176.6,226.8 177.6,231.2 178.5,234.6 179.5,237.1 180.5,238.5 181.2,241.2 182.0,244.4 183.4,240.5 184.4,240.5 185.4,238.5 186.3,242.1 187.1,245.8 187.8,247.7 188.6,251.0 189.4,255.6 190.2,260.9 191.0,265.1 191.8,267.1 192.6,268.3 193.4,269.0 194.2,269.9 195.0,269.2 195.8,268.3 196.6,268.7 197.4,269.1 198.5,268.3 199.7,276.1 200.8,281.2 201.8,280.1 202.8,277.3 203.9,274.8 204.9,272.2 205.8,271.6 206.7,269.6 207.6,273.8 208.5,278.6 209.2,276.2 210.0,272.2 210.9,267.8 211.8,261.9 212.7,260.6 213.5,259.5 214.4,258.1 215.7,256.4 216.9,253.0 217.8,252.6 218.6,251.2 219.5,250.4 220.4,248.5 221.2,247.4 222.1,246.5 223.3,245.0 224.6,242.7 225.5,240.3 226.3,240.1 227.2,237.6 228.4,236.5 229.7,236.3 230.6,235.2 231.5,232.4 232.3,230.1 233.1,228.6 234.0,230.2 234.9,229.9 235.8,232.9 236.7,235.0 237.7,237.6 238.7,240.1 239.8,241.4 240.8,242.7 241.7,244.3 242.6,245.3 243.5,246.1 244.4,246.5 245.4,244.2 246.4,242.7 247.4,239.6 248.5,237.6 249.4,233.1 250.3,228.6 251.2,235.2 252.1,240.1 253.1,241.6 254.1,242.7 255.5,244.5 256.7,246.4 257.5,250.6 258.7,245.4 259.4,244.0 260.2,244.3 261.2,246.4 262.3,253.7 263.3,264.0 264.3,272.3 265.4,284.8 266.0,297.2 266.4,309.7 266.8,317.0 267.9,306.6 269.1,303.5 269.9,295.2 271.2,282.7 272.0,272.3 273.3,263.0 274.7,258.9 275.5,257.9 276.4,255.7 277.8,253.7 278.6,255.7 279.5,256.8 280.3,264.0 281.1,268.5 282.0,271.3 283.0,273.3 284.0,276.5 284.9,278.5 285.7,279.6 286.4,277.7 287.2,277.5 288.6,273.4 289.5,272.2 290.3,270.3 291.1,272.4 291.9,275.5 292.6,271.8 293.4,269.2 294.8,266.1 295.6,265.8 296.5,264.0 297.9,267.2 299.0,268.2 300.0,262.9 300.9,254.4 302.0,247.6 302.9,246.0 303.8,245.9 305.1,246.7 306.0,242.4 306.8,251.0 307.7,255.2 308.9,252.7 310.2,247.6 311.6,242.4 312.5,241.6 313.3,240.7 314.5,235.6 315.7,241.6 317.1,249.3 318.0,251.7 318.8,252.7 320.1,255.2 321.3,248.4 322.5,246.7 323.9,251.0 325.3,258.7 326.5,262.1 327.4,262.4 328.2,263.8 329.0,261.5 329.9,260.4 330.8,259.5 331.6,257.0 332.5,255.5 333.3,254.4 334.1,255.7 335.0,256.1 335.9,256.5 336.7,258.7 337.5,259.7 338.4,261.2 339.2,262.2 340.1,264.6 341.0,264.1 341.8,262.9 342.6,260.8 343.5,260.4 344.4,260.9 345.2,259.5 346.1,256.9 347.0,256.1 347.9,254.0 348.7,250.9 349.5,247.0 350.4,245.0 351.2,241.1 352.1,238.2 353.0,236.7 353.8,233.9 354.6,232.8 355.5,233.0 356.4,233.7 357.2,235.6 358.0,236.4 358.9,236.5 359.8,236.3 360.6,236.5 361.5,235.1 362.3,235.6 363.1,236.2 364.0,234.8 364.9,232.8 365.7,232.2 366.4,227.9 367.2,225.4 367.9,223.2 368.7,221.7 370.1,220.3 370.9,222.3 371.6,223.9 372.4,225.9 373.1,226.9 374.5,229.0 375.2,229.0 376.0,230.5 377.4,231.2 378.1,231.6 378.9,232.7 379.6,231.4 380.4,232.0 381.8,232.7 382.6,231.5 383.3,230.5 384.1,229.6 384.8,227.6 386.2,224.7 386.9,224.4 387.7,223.2 388.4,225.1 389.2,225.4 390.6,224.7 391.6,223.2 392.5,216.6 393.6,209.3 394.3,206.4 395.7,207.1 396.4,208.0 397.2,207.8 397.9,208.9 398.7,208.6 400.1,209.3 400.9,210.1 401.6,210.0 402.8,208.6 404.2,207.8 405.1,208.5 406.0,209.3 406.8,209.5 407.5,210.7 408.9,212.9 409.6,214.3 410.4,215.1 411.1,215.1 411.9,215.9 413.3,217.3 414.1,217.6 414.8,219.5 416.2,222.5 416.9,220.5 417.7,218.8 418.4,219.5 419.2,218.8 420.6,221.0 421.4,221.0 422.1,222.5 422.9,223.0 423.6,223.2 424.7,224.7 425.8,222.5 427.2,220.3 427.9,219.7 428.7,219.5 430.1,216.3 431.4,211.6 432.6,206.5 433.5,204.8 434.3,203.0 435.1,201.9 436.0,202.2 436.9,203.5 437.7,203.0 438.5,201.7 439.4,201.3 440.2,200.7 441.1,199.6 442.0,200.3 442.8,201.3 443.6,199.9 444.5,200.5 445.4,199.8 446.2,198.8 447.0,197.6 447.9,197.9 448.8,196.6 449.6,197.1 450.5,196.6 451.3,197.9 452.1,197.7 453.0,198.8 454.1,196.4 455.3,195.7 456.5,198.8 457.7,203.9 459.0,207.3 459.9,208.9 460.7,209.9 461.5,210.2 462.4,210.4 463.4,210.4 464.4,210.4 465.4,210.4 466.4,210.4 467.3,210.4 468.3,210.4 469.3,210.4 470.3,210.4 471.3,210.4 472.3,210.4 473.3,210.4 474.3,210.4 475.3,210.4 476.3,210.4 477.2,210.4 478.2,210.4 479.2,210.4 480.2,210.4 481.2,210.4 481.6,219.3 482.1,226.1 482.9,232.1 484.3,237.2 485.5,236.3 486.4,235.6 487.2,232.9 488.0,232.9 488.9,231.2 489.8,232.2 490.6,231.2 491.5,229.4 492.3,228.7 493.5,229.5 494.9,234.6 496.1,240.0 497.0,242.7 498.0,239.3 499.0,238.0 500.1,235.3 501.4,233.3 502.8,232.6 504.1,233.9 505.5,229.2 506.8,227.2 508.2,225.9 509.5,226.5 510.4,228.6 511.1,233.9 511.8,238.0 513.1,235.3 514.5,233.3 515.8,229.9 517.1,226.5 518.1,225.2 519.4,226.5 520.3,227.1 521.2,227.9 522.5,230.6 523.5,234.6 524.8,236.3 526.1,236.3 527.5,233.9 528.8,230.6 530.2,227.9 531.5,227.2 532.3,223.2 533.3,217.8 533.9,211.1 535.0,206.4 535.9,205.1 537.3,206.4 538.6,207.8 540.0,209.8 541.3,209.1 542.2,214.5 543.3,218.5 544.4,215.1 545.3,211.1 546.3,208.4 547.6,209.8 549.0,211.1 550.3,213.1 551.4,215.1 552.7,216.5 554.1,218.5 555.4,221.2 556.5,223.2 557.8,222.5 559.2,223.2 560.5,225.2 561.8,227.9 562.8,231.2 563.7,234.6 564.5,237.3 565.9,235.3 566.7,233.8 567.5,233.3 568.3,232.4 569.1,231.2 570.0,230.8 570.8,229.9 571.5,230.6 572.3,230.0 573.1,228.1 574.0,225.3 575.0,223.5 576.0,222.6 577.0,221.4 578.1,220.6 579.4,221.2 580.7,226.6 582.1,232.0 583.4,231.3 584.8,229.3 585.6,228.7 586.4,228.0 587.7,230.0 588.8,231.3 590.1,227.3 591.1,224.3 592.1,223.3 593.5,223.9 594.6,226.6 595.4,224.3 596.2,223.9 597.2,222.4 598.2,221.2 599.2,220.1 600.2,220.6 601.2,221.0 602.2,220.6 603.2,220.3 604.2,221.0 605.6,219.9 606.9,215.9 608.3,211.8 609.6,207.8 610.9,203.1 612.3,201.8 613.6,202.4 615.0,200.4 616.3,199.1 617.7,197.1 618.6,195.7" fill="none" stroke="#ff0000" stroke-width="1.2" stroke-linejoin="round"/>
<polygon points="66.3,196.5 67.1,195.5 67.9,195.6 68.9,197.1 69.9,198.5 70.8,200.2 71.8,202.4 72.8,203.1 73.8,203.4 74.8,202.7 75.7,201.4 76.7,197.6 77.7,195.6 78.5,192.7 79.2,191.7 80.4,191.4 81.6,189.7 82.5,188.3 83.5,187.8 84.5,187.7 85.5,188.7 86.5,190.7 87.4,190.7 88.4,189.6 89.4,188.7 90.3,188.9 91.3,187.8 92.3,188.2 93.3,188.7 94.2,190.5 95.2,191.7 96.2,192.0 97.2,193.6 98.2,195.3 99.1,196.5 100.1,198.2 101.1,198.5 102.0,199.5 103.0,200.4 104.0,202.8 105.0,204.3 105.8,205.6 106.5,206.3 107.9,203.4 108.9,202.0 109.9,202.4 110.8,203.4 111.8,203.4 112.8,204.0 113.8,204.3 115.1,205.3 115.9,206.9 116.7,209.2 117.7,202.9 118.6,198.5 119.4,198.5 120.3,197.0 121.2,197.2 122.0,197.5 122.8,200.4 123.5,202.4 124.9,210.2 126.2,218.0 127.0,224.1 127.8,228.7 128.6,233.5 129.4,237.5 130.1,240.4 131.3,234.6 132.7,226.8 133.6,223.7 134.6,219.0 135.6,215.3 136.6,212.1 137.6,210.3 138.5,207.3 139.5,207.6 140.5,208.2 141.4,210.1 142.4,210.2 143.4,210.0 144.4,208.2 145.4,205.0 146.3,203.4 147.3,200.7 148.3,199.5 149.2,200.4 150.2,202.4 151.6,196.5 152.8,193.6 154.1,197.5 155.1,200.9 156.1,202.4 157.1,200.8 158.0,199.5 159.0,198.8 160.0,197.5 161.4,202.4 162.2,204.0 162.9,206.3 163.7,207.8 164.5,209.2 165.9,204.3 166.9,203.1 167.8,202.4 168.8,203.6 169.8,205.3 170.8,203.0 171.7,200.4 172.7,202.5 173.7,204.3 174.6,206.1 175.6,206.3 176.6,207.2 177.6,207.3 178.6,207.7 179.5,206.3 180.5,206.0 181.5,204.3 182.5,204.6 183.4,203.4 184.4,202.4 185.4,201.4 186.3,202.5 187.3,201.4 188.3,203.8 189.3,204.3 190.4,204.4 191.5,203.0 192.6,202.2 193.8,204.6 195.1,206.1 196.0,205.1 196.8,205.9 197.7,204.8 198.6,204.1 199.4,202.6 200.3,202.2 201.6,203.3 202.8,206.1 203.9,210.0 204.9,212.5 205.8,218.0 206.7,221.5 207.9,225.3 208.9,223.2 210.0,222.7 210.9,224.0 211.8,224.0 212.7,222.1 213.5,219.9 214.4,218.9 215.7,215.9 216.9,213.8 217.8,213.0 218.6,211.9 219.5,209.9 220.4,209.0 221.2,210.1 222.1,209.9 223.3,210.3 224.6,212.5 225.5,213.8 226.3,213.9 227.2,215.1 228.4,217.1 229.7,217.6 230.6,217.3 231.4,215.1 232.3,213.8 233.2,213.5 234.1,211.2 235.1,213.4 236.2,216.3 237.2,214.9 238.2,215.1 239.1,216.5 240.0,217.6 240.9,219.2 241.8,222.7 242.8,222.7 243.8,224.0 244.9,221.3 245.9,218.9 246.8,216.6 247.7,213.8 248.6,211.0 249.5,209.5 250.7,207.2 251.9,206.7 252.7,205.5 253.5,202.8 254.3,201.2 255.1,200.4 255.9,202.5 256.7,202.8 257.5,203.6 258.3,202.8 259.4,198.8 260.3,194.8 261.4,196.4 262.2,197.4 263.0,198.8 263.8,199.1 264.6,199.6 265.4,199.2 266.2,198.8 267.0,199.9 267.8,200.4 268.6,201.8 269.4,202.8 270.5,204.3 271.7,201.2 272.5,200.5 273.3,199.6 274.6,195.6 275.5,183.0 276.5,165.0 277.5,148.0 278.3,137.5 279.3,130.6 280.5,126.7 281.6,122.4 282.8,119.8 284.0,115.5 285.1,116.1 286.3,116.7 287.5,115.4 288.6,114.3 289.8,113.6 290.9,112.0 291.7,114.4 292.5,117.8 293.4,121.5 294.4,125.9 295.3,129.2 296.2,130.6 297.0,128.9 297.9,127.1 299.0,122.5 300.2,117.8 301.4,115.7 302.5,115.5 303.6,116.5 304.8,117.8 306.0,115.1 307.1,112.0 308.0,109.9 308.8,109.7 309.7,113.4 310.6,116.7 311.8,123.9 312.9,130.6 314.0,132.6 315.2,136.3 316.4,139.5 317.6,142.1 318.4,144.8 319.2,147.6 320.4,151.3 321.7,155.0 322.9,151.9 324.1,148.9 325.3,151.3 326.5,153.1 327.8,150.7 328.7,150.8 329.6,150.1 330.5,150.4 331.4,151.3 332.3,153.2 333.2,154.3 334.1,156.0 335.1,156.8 336.3,160.4 337.5,164.1 338.7,165.9 340.0,167.1 341.2,165.9 342.4,163.5 343.6,161.0 344.8,162.9 346.0,165.9 347.3,167.8 348.2,167.4 349.1,169.0 350.0,167.5 350.9,167.8 351.9,167.8 352.8,167.1 353.7,168.4 354.6,167.8 355.8,169.6 356.8,170.2 357.6,167.8 358.9,163.7 360.1,164.1 361.0,163.9 361.9,164.7 362.8,164.9 363.7,165.3 364.6,165.5 365.6,165.3 366.5,165.5 367.4,166.5 368.3,167.2 369.2,168.4 370.1,167.7 371.0,167.8 371.9,166.9 372.9,166.5 373.8,165.5 374.7,164.1 375.5,162.5 376.3,161.7 377.5,158.6 378.4,155.0 379.6,151.3 380.8,150.1 381.8,150.3 382.8,151.4 383.8,151.3 384.9,150.6 386.0,151.7 387.1,152.4 388.2,152.8 389.3,154.0 390.4,154.2 391.5,154.6 392.6,155.7 394.0,153.5 395.1,152.2 396.2,152.0 397.3,151.9 398.4,150.6 399.5,149.3 400.6,149.1 401.7,147.7 402.8,147.6 403.9,147.9 405.0,148.4 405.8,150.6 406.5,152.0 407.6,152.0 408.7,153.5 409.7,153.4 410.6,153.6 411.6,154.2 412.7,154.9 413.8,154.2 414.9,154.8 416.0,155.7 417.1,157.2 418.2,157.2 419.3,157.6 420.4,159.4 421.5,160.2 422.6,161.6 423.7,162.6 424.8,163.0 425.9,163.1 427.0,161.6 428.1,160.0 429.2,158.6 430.3,156.6 431.4,155.7 432.5,154.6 433.6,155.0 434.7,156.2 435.8,157.2 436.9,158.0 438.0,160.1 439.1,162.2 440.2,163.0 441.0,164.9 441.8,165.5 442.8,166.8 443.7,169.4 445.1,173.8 445.9,174.3 446.6,175.7 448.0,175.3 448.8,175.2 449.5,173.8 450.6,173.4 451.7,172.4 452.8,172.5 453.9,171.3 455.0,171.0 456.1,171.3 457.5,172.4 458.2,172.4 459.0,173.8 460.0,174.8 461.0,174.8 462.0,174.8 463.0,174.8 464.0,174.8 465.0,174.8 466.0,174.8 467.0,174.8 468.0,174.8 469.0,174.8 470.0,174.8 471.0,174.8 472.0,174.8 473.0,174.8 474.0,174.8 475.0,174.8 476.0,174.8 477.0,174.8 478.0,174.8 479.0,174.8 480.0,174.8 481.0,174.3 481.0,178.3 480.0,177.8 479.0,177.8 478.0,177.8 477.0,177.8 476.0,177.8 475.0,177.8 474.0,177.8 473.0,177.8 472.0,177.8 471.0,177.8 470.0,177.8 469.0,177.8 468.0,177.8 467.0,177.8 466.0,177.8 465.0,177.8 464.0,177.8 463.0,177.8 462.0,177.8 461.0,177.8 460.0,177.8 459.0,177.8 458.2,176.4 457.5,176.4 456.1,175.3 455.0,175.0 453.9,175.3 452.8,176.5 451.7,176.4 450.6,177.4 449.5,177.8 448.8,179.2 448.0,179.3 446.6,179.7 445.9,178.3 445.1,177.8 443.7,173.4 442.8,170.8 441.8,169.5 441.0,168.9 440.2,167.0 439.1,166.2 438.0,164.1 436.9,162.0 435.8,161.2 434.7,160.2 433.6,159.0 432.5,158.6 431.4,159.7 430.3,160.6 429.2,162.6 428.1,164.0 427.0,165.6 425.9,167.1 424.8,167.0 423.7,166.6 422.6,165.6 421.5,164.2 420.4,163.4 419.3,161.6 418.2,161.2 417.1,161.2 416.0,159.7 414.9,158.8 413.8,158.2 412.7,158.9 411.6,158.2 410.6,157.6 409.7,157.4 408.7,157.5 407.6,156.0 406.5,156.0 405.8,154.6 405.0,152.4 403.9,151.9 402.8,151.6 401.7,151.7 400.6,153.1 399.5,153.3 398.4,154.6 397.3,155.9 396.2,156.0 395.1,156.2 394.0,157.5 392.6,159.7 391.5,158.6 390.4,158.2 389.3,158.0 388.2,156.8 387.1,156.4 386.0,155.7 384.9,154.6 383.8,155.3 382.8,155.4 381.8,154.3 380.8,154.1 379.6,155.3 378.4,159.0 377.5,162.6 376.3,165.7 375.5,166.5 374.7,168.1 373.8,169.5 372.9,170.5 371.9,170.9 371.0,171.8 370.1,171.7 369.2,172.4 368.3,171.2 367.4,170.5 366.5,169.5 365.6,169.3 364.6,169.5 363.7,169.3 362.8,168.9 361.9,168.7 361.0,167.9 360.1,168.1 358.9,167.7 357.6,171.8 356.8,174.2 355.8,173.6 354.6,171.8 353.7,172.4 352.8,171.1 351.9,171.8 350.9,171.8 350.0,171.5 349.1,173.0 348.2,171.4 347.3,171.8 346.0,169.9 344.8,166.9 343.6,165.0 342.4,167.5 341.2,169.9 340.0,171.1 338.7,169.9 337.5,168.1 336.3,164.4 335.1,160.8 334.1,160.0 333.2,158.3 332.3,157.2 331.4,155.3 330.5,154.4 329.6,154.1 328.7,154.8 327.8,154.7 326.5,157.1 325.3,155.3 324.1,152.9 322.9,155.9 321.7,159.0 320.4,155.3 319.2,151.6 318.4,148.8 317.6,146.1 316.4,143.5 315.2,140.3 314.0,136.6 312.9,134.6 311.8,127.9 310.6,120.7 309.7,117.4 308.8,113.7 308.0,113.9 307.1,116.0 306.0,119.1 304.8,121.8 303.6,120.5 302.5,119.5 301.4,119.7 300.2,121.8 299.0,126.5 297.9,131.1 297.0,132.9 296.2,134.6 295.3,133.2 294.4,129.9 293.4,125.5 292.5,121.8 291.7,118.4 290.9,116.0 289.8,117.6 288.6,118.3 287.5,119.4 286.3,120.7 285.1,120.1 284.0,119.5 282.8,123.8 281.6,126.4 280.5,130.7 279.3,134.6 278.3,141.5 277.5,152.0 276.5,169.0 275.5,187.0 274.6,199.6 273.3,203.6 272.5,204.5 271.7,205.2 270.5,208.3 269.4,206.8 268.6,205.8 267.8,204.4 267.0,203.9 266.2,202.8 265.4,203.2 264.6,203.6 263.8,203.1 263.0,202.8 262.2,201.4 261.4,200.4 260.3,198.8 259.4,202.8 258.3,206.8 257.5,207.6 256.7,206.8 255.9,206.5 255.1,204.4 254.3,205.2 253.5,206.8 252.7,209.5 251.9,210.7 250.7,211.2 249.5,213.5 248.6,215.0 247.7,217.8 246.8,220.6 245.9,222.9 244.9,225.3 243.8,228.0 242.8,226.7 241.8,226.7 240.9,223.2 240.0,221.6 239.1,220.5 238.2,219.1 237.2,218.9 236.2,220.3 235.1,217.4 234.1,215.2 233.2,217.5 232.3,217.8 231.4,219.1 230.6,221.3 229.7,221.6 228.4,221.1 227.2,219.1 226.3,217.9 225.5,217.8 224.6,216.5 223.3,214.3 222.1,213.9 221.2,214.1 220.4,213.0 219.5,213.9 218.6,215.9 217.8,217.0 216.9,217.8 215.7,219.9 214.4,222.9 213.5,223.9 212.7,226.1 211.8,228.0 210.9,228.0 210.0,226.7 208.9,227.2 207.9,229.3 206.7,225.5 205.8,222.0 204.9,216.5 203.9,214.0 202.8,210.1 201.6,207.3 200.3,206.2 199.4,206.6 198.6,208.1 197.7,208.8 196.8,209.9 196.0,209.1 195.1,210.1 193.8,208.6 192.6,206.2 191.5,207.0 190.4,208.4 189.3,208.3 188.3,207.8 187.3,205.4 186.3,206.5 185.4,205.4 184.4,206.4 183.4,207.4 182.5,208.6 181.5,208.3 180.5,210.0 179.5,210.3 178.6,211.7 177.6,211.3 176.6,211.2 175.6,210.3 174.6,210.1 173.7,208.3 172.7,206.5 171.7,204.4 170.8,207.0 169.8,209.3 168.8,207.6 167.8,206.4 166.9,207.1 165.9,208.3 164.5,213.2 163.7,211.8 162.9,210.3 162.2,208.0 161.4,206.4 160.0,201.5 159.0,202.8 158.0,203.5 157.1,204.8 156.1,206.4 155.1,204.9 154.1,201.5 152.8,197.6 151.6,200.5 150.2,206.4 149.2,204.4 148.3,203.5 147.3,204.7 146.3,207.4 145.4,209.0 144.4,212.2 143.4,214.0 142.4,214.2 141.4,214.1 140.5,212.2 139.5,211.6 138.5,211.3 137.6,214.3 136.6,216.1 135.6,219.3 134.6,223.0 133.6,227.7 132.7,230.8 131.3,238.6 130.1,244.4 129.4,241.5 128.6,237.5 127.8,232.7 127.0,228.1 126.2,222.0 124.9,214.2 123.5,206.4 122.8,204.4 122.0,201.5 121.2,201.2 120.3,201.0 119.4,202.5 118.6,202.5 117.7,206.9 116.7,213.2 115.9,210.9 115.1,209.3 113.8,208.3 112.8,208.0 111.8,207.4 110.8,207.4 109.9,206.4 108.9,206.0 107.9,207.4 106.5,210.3 105.8,209.6 105.0,208.3 104.0,206.8 103.0,204.4 102.0,203.5 101.1,202.5 100.1,202.2 99.1,200.5 98.2,199.3 97.2,197.6 96.2,196.0 95.2,195.7 94.2,194.5 93.3,192.7 92.3,192.2 91.3,191.8 90.3,192.9 89.4,192.7 88.4,193.6 87.4,194.7 86.5,194.7 85.5,192.7 84.5,191.7 83.5,191.8 82.5,192.3 81.6,193.7 80.4,195.4 79.2,195.7 78.5,196.7 77.7,199.6 76.7,201.6 75.7,205.4 74.8,206.7 73.8,207.4 72.8,207.1 71.8,206.4 70.8,204.2 69.9,202.5 68.9,201.1 67.9,199.6 67.1,199.5 66.3,200.5" fill="#00ff00"/>
<polyline points="66.3,198.5 67.1,197.5 67.9,197.6 68.9,199.1 69.9,200.5 70.8,202.2 71.8,204.4 72.8,205.1 73.8,205.4 74.8,204.7 75.7,203.4 76.7,199.6 77.7,197.6 78.5,194.7 79.2,193.7 80.4,193.4 81.6,191.7 82.5,190.3 83.5,189.8 84.5,189.7 85.5,190.7 86.5,192.7 87.4,192.7 88.4,191.6 89.4,190.7 90.3,190.9 91.3,189.8 92.3,190.2 93.3,190.7 94.2,192.5 95.2,193.7 96.2,194.0 97.2,195.6 98.2,197.3 99.1,198.5 100.1,200.2 101.1,200.5 102.0,201.5 103.0,202.4 104.0,204.8 105.0,206.3 105.8,207.6 106.5,208.3 107.9,205.4 108.9,204.0 109.9,204.4 110.8,205.4 111.8,205.4 112.8,206.0 113.8,206.3 115.1,207.3 115.9,208.9 116.7,211.2 117.7,204.9 118.6,200.5 119.4,200.5 120.3,199.0 121.2,199.2 122.0,199.5 122.8,202.4 123.5,204.4 124.9,212.2 126.2,220.0 127.0,226.1 127.8,230.7 128.6,235.5 129.4,239.5 130.1,242.4 131.3,236.6 132.7,228.8 133.6,225.7 134.6,221.0 135.6,217.3 136.6,214.1 137.6,212.3 138.5,209.3 139.5,209.6 140.5,210.2 141.4,212.1 142.4,212.2 143.4,212.0 144.4,210.2 145.4,207.0 146.3,205.4 147.3,202.7 148.3,201.5 149.2,202.4 150.2,204.4 151.6,198.5 152.8,195.6 154.1,199.5 155.1,202.9 156.1,204.4 157.1,202.8 158.0,201.5 159.0,200.8 160.0,199.5 161.4,204.4 162.2,206.0 162.9,208.3 163.7,209.8 164.5,211.2 165.9,206.3 166.9,205.1 167.8,204.4 168.8,205.6 169.8,207.3 170.8,205.0 171.7,202.4 172.7,204.5 173.7,206.3 174.6,208.1 175.6,208.3 176.6,209.2 177.6,209.3 178.6,209.7 179.5,208.3 180.5,208.0 181.5,206.3 182.5,206.6 183.4,205.4 184.4,204.4 185.4,203.4 186.3,204.5 187.3,203.4 188.3,205.8 189.3,206.3 190.4,206.4 191.5,205.0 192.6,204.2 193.8,206.6 195.1,208.1 196.0,207.1 196.8,207.9 197.7,206.8 198.6,206.1 199.4,204.6 200.3,204.2 201.6,205.3 202.8,208.1 203.9,212.0 204.9,214.5 205.8,220.0 206.7,223.5 207.9,227.3 208.9,225.2 210.0,224.7 210.9,226.0 211.8,226.0 212.7,224.1 213.5,221.9 214.4,220.9 215.7,217.9 216.9,215.8 217.8,215.0 218.6,213.9 219.5,211.9 220.4,211.0 221.2,212.1 222.1,211.9 223.3,212.3 224.6,214.5 225.5,215.8 226.3,215.9 227.2,217.1 228.4,219.1 229.7,219.6 230.6,219.3 231.4,217.1 232.3,215.8 233.2,215.5 234.1,213.2 235.1,215.4 236.2,218.3 237.2,216.9 238.2,217.1 239.1,218.5 240.0,219.6 240.9,221.2 241.8,224.7 242.8,224.7 243.8,226.0 244.9,223.3 245.9,220.9 246.8,218.6 247.7,215.8 248.6,213.0 249.5,211.5 250.7,209.2 251.9,208.7 252.7,207.5 253.5,204.8 254.3,203.2 255.1,202.4 255.9,204.5 256.7,204.8 257.5,205.6 258.3,204.8 259.4,200.8 260.3,196.8 261.4,198.4 262.2,199.4 263.0,200.8 263.8,201.1 264.6,201.6 265.4,201.2 266.2,200.8 267.0,201.9 267.8,202.4 268.6,203.8 269.4,204.8 270.5,206.3 271.7,203.2 272.5,202.5 273.3,201.6 274.6,197.6 275.5,185.0 276.5,167.0 277.5,150.0 278.3,139.5 279.3,132.6 280.5,128.7 281.6,124.4 282.8,121.8 284.0,117.5 285.1,118.1 286.3,118.7 287.5,117.4 288.6,116.3 289.8,115.6 290.9,114.0 291.7,116.4 292.5,119.8 293.4,123.5 294.4,127.9 295.3,131.2 296.2,132.6 297.0,130.9 297.9,129.1 299.0,124.5 300.2,119.8 301.4,117.7 302.5,117.5 303.6,118.5 304.8,119.8 306.0,117.1 307.1,114.0 308.0,111.9 308.8,111.7 309.7,115.4 310.6,118.7 311.8,125.9 312.9,132.6 314.0,134.6 315.2,138.3 316.4,141.5 317.6,144.1 318.4,146.8 319.2,149.6 320.4,153.3 321.7,157.0 322.9,153.9 324.1,150.9 325.3,153.3 326.5,155.1 327.8,152.7 328.7,152.8 329.6,152.1 330.5,152.4 331.4,153.3 332.3,155.2 333.2,156.3 334.1,158.0 335.1,158.8 336.3,162.4 337.5,166.1 338.7,167.9 340.0,169.1 341.2,167.9 342.4,165.5 343.6,163.0 344.8,164.9 346.0,167.9 347.3,169.8 348.2,169.4 349.1,171.0 350.0,169.5 350.9,169.8 351.9,169.8 352.8,169.1 353.7,170.4 354.6,169.8 355.8,171.6 356.8,172.2 357.6,169.8 358.9,165.7 360.1,166.1 361.0,165.9 361.9,166.7 362.8,166.9 363.7,167.3 364.6,167.5 365.6,167.3 366.5,167.5 367.4,168.5 368.3,169.2 369.2,170.4 370.1,169.7 371.0,169.8 371.9,168.9 372.9,168.5 373.8,167.5 374.7,166.1 375.5,164.5 376.3,163.7 377.5,160.6 378.4,157.0 379.6,153.3 380.8,152.1 381.8,152.3 382.8,153.4 383.8,153.3 384.9,152.6 386.0,153.7 387.1,154.4 388.2,154.8 389.3,156.0 390.4,156.2 391.5,156.6 392.6,157.7 394.0,155.5 395.1,154.2 396.2,154.0 397.3,153.9 398.4,152.6 399.5,151.3 400.6,151.1 401.7,149.7 402.8,149.6 403.9,149.9 405.0,150.4 405.8,152.6 406.5,154.0 407.6,154.0 408.7,155.5 409.7,155.4 410.6,155.6 411.6,156.2 412.7,156.9 413.8,156.2 414.9,156.8 416.0,157.7 417.1,159.2 418.2,159.2 419.3,159.6 420.4,161.4 421.5,162.2 422.6,163.6 423.7,164.6 424.8,165.0 425.9,165.1 427.0,163.6 428.1,162.0 429.2,160.6 430.3,158.6 431.4,157.7 432.5,156.6 433.6,157.0 434.7,158.2 435.8,159.2 436.9,160.0 438.0,162.1 439.1,164.2 440.2,165.0 441.0,166.9 441.8,167.5 442.8,168.8 443.7,171.4 445.1,175.8 445.9,176.3 446.6,177.7 448.0,177.3 448.8,177.2 449.5,175.8 450.6,175.4 451.7,174.4 452.8,174.5 453.9,173.3 455.0,173.0 456.1,173.3 457.5,174.4 458.2,174.4 459.0,175.8 460.0,176.3 461.0,176.3 462.0,176.3 463.0,176.3 464.0,176.3 465.0,176.3 466.0,176.3 467.0,176.3 468.0,176.3 469.0,176.3 470.0,176.3 471.0,176.3 472.0,176.3 473.0,176.3 474.0,176.3 475.0,176.3 476.0,176.3 477.0,176.3 478.0,176.3 479.0,176.3 480.0,176.3 481.0,176.3" fill="none" stroke="#00ff00" stroke-width="1.2" stroke-linejoin="round"/>
</g>
<g shape-rendering="crispEdges">
<rect x="442" y="32" width="6" height="2" fill="#00ccff"/>
<rect x="442" y="45" width="6" height="2" fill="#ff0000"/>
<rect x="442" y="59" width="6" height="2" fill="#00ff00"/>
</g>
<text class="t" x="189.5" y="0" transform="translate(0,21.7) scale(1,1.045)" fill="#5b80f7">24<tspan dx="-1.6"> Hour</tspan><tspan dx="0.6"> Spot</tspan><tspan dx="0.9"> Gold</tspan><tspan dx="0.4"> (Bid)</tspan></text>
<text class="t" x="68" y="54" fill="#5b80f7">www.kitco.com</text>
<text class="b" transform="translate(20,17) scale(1,0.885)" fill="#d9d9d9">USD/oz</text>
<text class="b" transform="translate(19,31) scale(1,0.885)" fill="#d9d9d9">1890.0</text>
<text class="b" transform="translate(19,69) scale(1,0.885)" fill="#d9d9d9">1885.0</text>
<text class="b" transform="translate(19,108) scale(1,0.885)" fill="#d9d9d9">1880.0</text>
<text class="b" transform="translate(19,146) scale(1,0.885)" fill="#d9d9d9">1875.0</text>
<text class="b" transform="translate(19,184) scale(1,0.885)" fill="#d9d9d9">1870.0</text>
<text class="b" transform="translate(19,223) scale(1,0.885)" fill="#d9d9d9">1865.0</text>
<text class="b" transform="translate(19,261) scale(1,0.885)" fill="#d9d9d9">1860.0</text>
<text class="b" transform="translate(19,299) scale(1,0.885)" fill="#d9d9d9">1855.0</text>
<text class="b" transform="translate(19,338) scale(1,0.885)" fill="#d9d9d9">1850.0</text>
<text class="b" transform="translate(19,376) scale(1,0.885)" fill="#d9d9d9">1845.0</text>
<text class="b" transform="translate(447,24) scale(1,0.885)" fill="#d9d9d9">November 20, 2020 23:59</text>
<text class="b" transform="translate(451,38) scale(1,0.885)" fill="#00ccff">Nov 18 NY close 1871.50</text>
<text class="b" transform="translate(451,50) scale(1,0.885)" fill="#ff0000">Nov 19 NY close 1866.00</text>
<text class="b" transform="translate(451,63) scale(1,0.885)" fill="#00ff00">Nov 20 Last 1870.40</text>
<text class="b" transform="translate(47,387) scale(1,0.885)" fill="#d9d9d9">00:00</text>
<text class="b" transform="translate(47,401) scale(1,0.885)" fill="#5a5a5a">05:00</text>
<text class="b" transform="translate(139,387) scale(1,0.885)" fill="#d9d9d9">04:00</text>
<text class="b" transform="translate(139,401) scale(1,0.885)" fill="#5a5a5a">09:00</text>
<text class="b" transform="translate(232,387) scale(1,0.885)" fill="#d9d9d9">08:00</text>
<text class="b" transform="translate(232,401) scale(1,0.885)" fill="#5a5a5a">13:00</text>
<text class="b" transform="translate(324,387) scale(1,0.885)" fill="#d9d9d9">12:00</text>
<text class="b" transform="translate(324,401) scale(1,0.885)" fill="#5a5a5a">17:00</text>
<text class="b" transform="translate(416,387) scale(1,0.885)" fill="#d9d9d9">16:00</text>
<text class="b" transform="translate(416,401) scale(1,0.885)" fill="#5a5a5a">21:00</text>
<text class="b" transform="translate(508,387) scale(1,0.885)" fill="#d9d9d9">20:00</text>
<text class="b" transform="translate(508,401) scale(1,0.885)" fill="#5a5a5a">01:00</text>
<text class="b" transform="translate(590,387) scale(1,0.885)" fill="#d9d9d9">23:59</text>
<text class="b" transform="translate(590,401) scale(1,0.885)" fill="#5a5a5a">04:59</text>
<text class="r" x="3.7" y="389" fill="#e2e2e2">NY Time</text>
<text class="r" x="11.7" y="401" fill="#e2e2e2">GMT</text>
<text class="r" x="88.5" y="343" fill="#ffcc00">Hong Kong</text>
<text class="r" x="212.5" y="356" fill="#ffcc00">London</text>
<text class="r" x="105.5" y="369" fill="#ffcc00">New York Globex</text>
<text class="r" x="275.5" y="369" fill="#ffcc00">New York NYMEX</text>
<text class="r" x="389.5" y="369" fill="#ffcc00">NY Globex</text>
<text class="r" x="547.5" y="343" fill="#ffcc00">Hong Kong</text>
<text class="r" x="531.5" y="356" fill="#ffcc00">Sydney</text>
<text class="r" x="504.5" y="369" fill="#ffcc00">New York Globex</text>
</svg>
</body></html>
